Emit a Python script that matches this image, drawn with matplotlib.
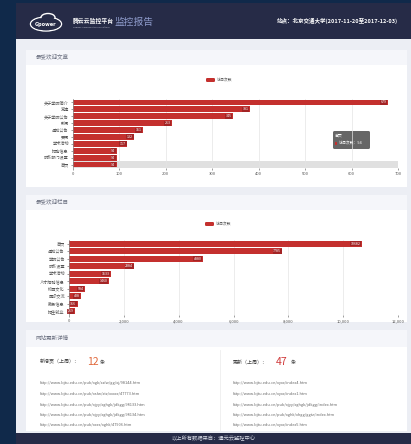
import matplotlib
matplotlib.use("Agg")
import matplotlib.pyplot as plt
from matplotlib.patches import Rectangle, FancyBboxPatch, Ellipse

plt.rcParams['font.family'] = ['Noto Sans CJK SC', 'DejaVu Sans']

W, H = 411, 444

# ---- data ----
article_names = ["关于学院简介", "党建", "关于学院公告", "新闻", "通知公告",
                 "要闻", "学术活动", "招聘信息", "院系部门设置", "首页"]
article_visits = [679, 381, 345, 213, 151, 132, 117, 94, 94, 94]
article_ticks = [0, 100, 200, 300, 400, 500, 600, 700]

column_names = ["首页", "通知公告", "学院公告", "院系设置", "学术活动",
                "人才招聘信息", "校园文化", "国际交流", "教务信息", "招生就业"]
column_visits = [10682, 7785, 4880, 2384, 1533, 1460, 584, 438, 316, 219]
column_ticks = [0, 2000, 4000, 6000, 8000, 10000, 12000]

new_pages = 12
updated_pages = 47
new_links = [
    "http://www.bjtu.edu.cn/pub/xgk/xsfw/gg/xj/98144.htm",
    "http://www.bjtu.edu.cn/pub/xsfw/xtz/xxxxx/47773.htm",
    "http://www.bjtu.edu.cn/pub/xjyy/xghgk/jdkgg/98133.htm",
    "http://www.bjtu.edu.cn/pub/xjyy/xghgk/jdkgg/98134.htm",
    "http://www.bjtu.edu.cn/pub/xxxx/xghk/47906.htm",
]
updated_links = [
    "http://www.bjtu.edu.cn/xyxx/index4.htm",
    "http://www.bjtu.edu.cn/xyxx/index1.htm",
    "http://www.bjtu.edu.cn/pub/xjyy/xghgk/jdkgg/index.htm",
    "http://www.bjtu.edu.cn/pub/xghk/xhgg/ggtz/index.htm",
    "http://www.bjtu.edu.cn/xyxx/index5.htm",
]

BAR = "#c4302e"
NAVY = "#10294a"
HEAD = "#262b47"
PAGE = "#eceef4"

fig = plt.figure(figsize=(W / 100, H / 100), dpi=100)
fig.patch.set_facecolor(NAVY)

bg = fig.add_axes([0, 0, 1, 1])
bg.set_xlim(0, W)
bg.set_ylim(H, 0)
bg.axis("off")


def rect(x, y, w, h, color, **kw):
    bg.add_patch(Rectangle((x, y), w, h, facecolor=color, edgecolor="none", **kw))


# page frame
rect(16, 3, W - 16, 36, HEAD)
rect(16, 39, W - 16, 394, PAGE)
rect(16, 433, W - 16, 11, HEAD)

# header: logo + titles
bg.add_patch(Ellipse((46, 24), 31, 14, facecolor="none", edgecolor="white", lw=1.0))
bg.add_patch(Ellipse((48, 17.5), 14, 8, facecolor=HEAD, edgecolor="white", lw=1.0))
bg.add_patch(Ellipse((46, 24), 29.5, 12.5, facecolor=HEAD, edgecolor="none"))
bg.text(46, 24.5, "Gpower", color="white", fontsize=3.6, fontweight="bold",
        ha="center", va="center", family=["DejaVu Sans"])
bg.text(73, 20.5, "腾云云监控平台", color="white", fontsize=4.2, fontweight="bold",
        ha="left", va="center")
bg.text(73, 27, "Gpower Cloud Monitoring Platform", color="#b8bccb", fontsize=1.6,
        ha="left", va="center")
bg.text(114, 22, "监控报告", color="#8f9ccc", fontsize=7, ha="left", va="center")
bg.text(398, 21, "站点：北京交通大学(2017-11-20至2017-12-03)", color="white",
        fontsize=4.0, fontweight="bold", ha="right", va="center")

# cards
cards = [(50, 65, 187, "最受欢迎文章"), (195, 210, 322, "最受欢迎栏目"),
         (330, 347, 431, "网站更新详情")]
for top, body, bottom, title in cards:
    rect(26, top, 381, body - top, "#f5f6fa")
    rect(26, body, 381, bottom - body, "white")
    bg.text(36, (top + body) / 2, title, color="#6b7080", fontsize=4.0,
            ha="left", va="center")

# footer text
bg.text(213, 438.5, "以上所有数据来自：通元云监控中心", color="#d8dbe6", fontsize=3.8,
        ha="center", va="center")


def bar_chart(box, names, values, ticks, legend_xy, shadow_idx=None):
    left, top, right, bottom = box
    ax = fig.add_axes([left / W, 1 - bottom / H, (right - left) / W, (bottom - top) / H])
    ax.set_facecolor("none")
    ypos = list(range(len(names)))
    if shadow_idx is not None:
        ax.barh(shadow_idx, ticks[-1], height=1.0, color="#d9d9d9", alpha=0.8, zorder=0)
    ax.barh(ypos, values, height=0.84, color=BAR, zorder=2)
    for y, v in zip(ypos, values):
        ax.text(v - ticks[-1] * 0.004, y, str(v), color="white", fontsize=2.6,
                ha="right", va="center", zorder=3,
                bbox=dict(boxstyle="square,pad=0.15", facecolor="#9e2224",
                          edgecolor="none", alpha=0.85))
    ax.set_xlim(0, ticks[-1])
    ax.set_ylim(len(names) - 0.5, -0.5)
    ax.set_xticks(ticks)
    ax.set_xticklabels([f"{t:,}" for t in ticks])
    ax.set_yticks(ypos)
    ax.set_yticklabels(names)
    ax.tick_params(axis="both", labelsize=3.0, colors="#555555", length=1.5, width=0.4,
                   pad=1.5)
    ax.grid(axis="x", color="#e4e4e4", lw=0.5, zorder=0)
    ax.set_axisbelow(True)
    for s in ("top", "right", "bottom"):
        ax.spines[s].set_visible(False)
    ax.spines["left"].set_color("#888888")
    ax.spines["left"].set_linewidth(0.5)
    # legend
    lx, ly = legend_xy
    bg.add_patch(FancyBboxPatch((lx, ly - 2), 9, 4, boxstyle="round,pad=0,rounding_size=1.2",
                                facecolor=BAR, edgecolor="none"))
    bg.text(lx + 11, ly, "访问次数", color="#555555", fontsize=2.8, ha="left", va="center")
    return ax


bar_chart((73, 99, 398, 168), article_names, article_visits, article_ticks,
          (206, 80), shadow_idx=len(article_names) - 1)
bar_chart((69, 240, 398, 315), column_names, column_visits, column_ticks, (205, 224))

# tooltip on the first chart
bg.add_patch(FancyBboxPatch((333, 131), 37, 18, boxstyle="round,pad=0,rounding_size=1.5",
                            facecolor="#555555", edgecolor="none", alpha=0.9))
bg.text(335, 136, article_names[-1], color="white", fontsize=2.8, ha="left", va="center")
rect(335, 141.5, 2, 3, BAR)
bg.text(338.5, 143, f"访问次数：{article_visits[-1]}", color="white", fontsize=2.8,
        ha="left", va="center")

# update details
bg.plot([220, 220], [350, 430], color="#eeeeee", lw=0.6)
bg.text(40, 362, "新增页（上周）：", color="#444444", fontsize=3.6, ha="left", va="center")
bg.text(87, 361.5, str(new_pages), color="#e0673a", fontsize=7.5, ha="left", va="center")
bg.text(100, 362, "条", color="#444444", fontsize=3.6, ha="left", va="center")
bg.text(233, 362, "更新（上周）：", color="#444444", fontsize=3.6, ha="left", va="center")
bg.text(276, 361.5, str(updated_pages), color="#d0393a", fontsize=7.5, ha="left", va="center")
bg.text(291, 362, "条", color="#444444", fontsize=3.6, ha="left", va="center")
link_y = [383, 394, 405, 415, 425]
for y, a, b in zip(link_y, new_links, updated_links):
    bg.text(40, y, a, color="#666666", fontsize=2.8, ha="left", va="center")
    bg.text(233, y, b, color="#666666", fontsize=2.8, ha="left", va="center")

fig.savefig("out.png", dpi=100, facecolor=fig.get_facecolor())
